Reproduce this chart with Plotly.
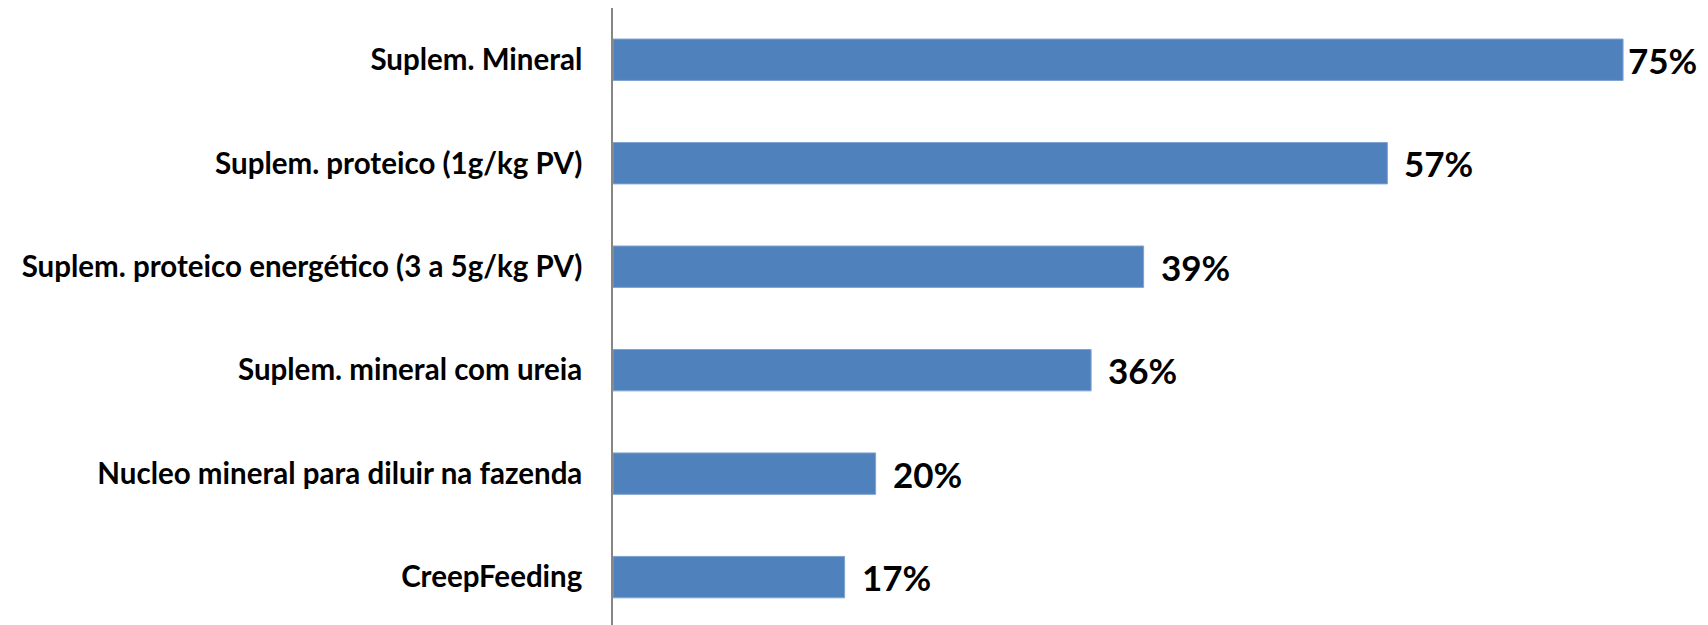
import plotly.graph_objects as go

categories = [
    "Suplem. Mineral",
    "Suplem. proteico (1g/kg PV)",
    "Suplem. proteico energético (3 a 5g/kg PV)",
    "Suplem. mineral com ureia",
    "Nucleo mineral para diluir na fazenda",
    "CreepFeeding",
]
values = [75.0, 57.5, 39.4, 35.5, 19.5, 17.2]
value_labels = ["75%", "57%", "39%", "36%", "20%", "17%"]

BAR_COLOR = "#4F81BD"
X_MAX = 81.9
PLOT_W = 1708 - 605
VISIBLE_W = PLOT_W - 8   # page body margin pushes the figure right by 8px
LABEL_W = 75             # approx label width in px

fig = go.Figure()
fig.add_trace(go.Bar(
    x=values,
    y=categories,
    orientation="h",
    marker=dict(color=BAR_COLOR, line=dict(color="#7FA3D0", width=1)),
    width=0.4,
    hoverinfo="x+y",
))

for v, c, lab in zip(values, categories, value_labels):
    bar_end_px = v / X_MAX * PLOT_W
    room = VISIBLE_W - 10 - LABEL_W - bar_end_px
    shift = max(3, min(15, room))
    fig.add_annotation(
        x=v, y=c, text=lab, showarrow=False,
        xanchor="left", yanchor="middle", xshift=shift,
        font=dict(family="Lato", size=35, color="#000000", weight="bold"),
    )

fig.update_layout(
    width=1708, height=625, autosize=False,
    margin=dict(l=605, r=0, t=0, b=0),
    plot_bgcolor="white", paper_bgcolor="white",
    showlegend=False,
    bargap=0.6,
)
fig.update_xaxes(
    range=[0, X_MAX], showgrid=False, zeroline=False,
    showticklabels=False, showline=False, ticks="",
)
fig.update_yaxes(
    type="category",
    categoryorder="array", categoryarray=categories,
    range=[5.54, -0.5],
    showgrid=False, zeroline=False,
    showline=True, linecolor="#868686", linewidth=1.5,
    ticks="", ticklabelstandoff=23,
    tickfont=dict(family="Lato", size=29.5, color="#000000", weight="bold"),
    automargin=False,
)

fig.write_html("out.html")
